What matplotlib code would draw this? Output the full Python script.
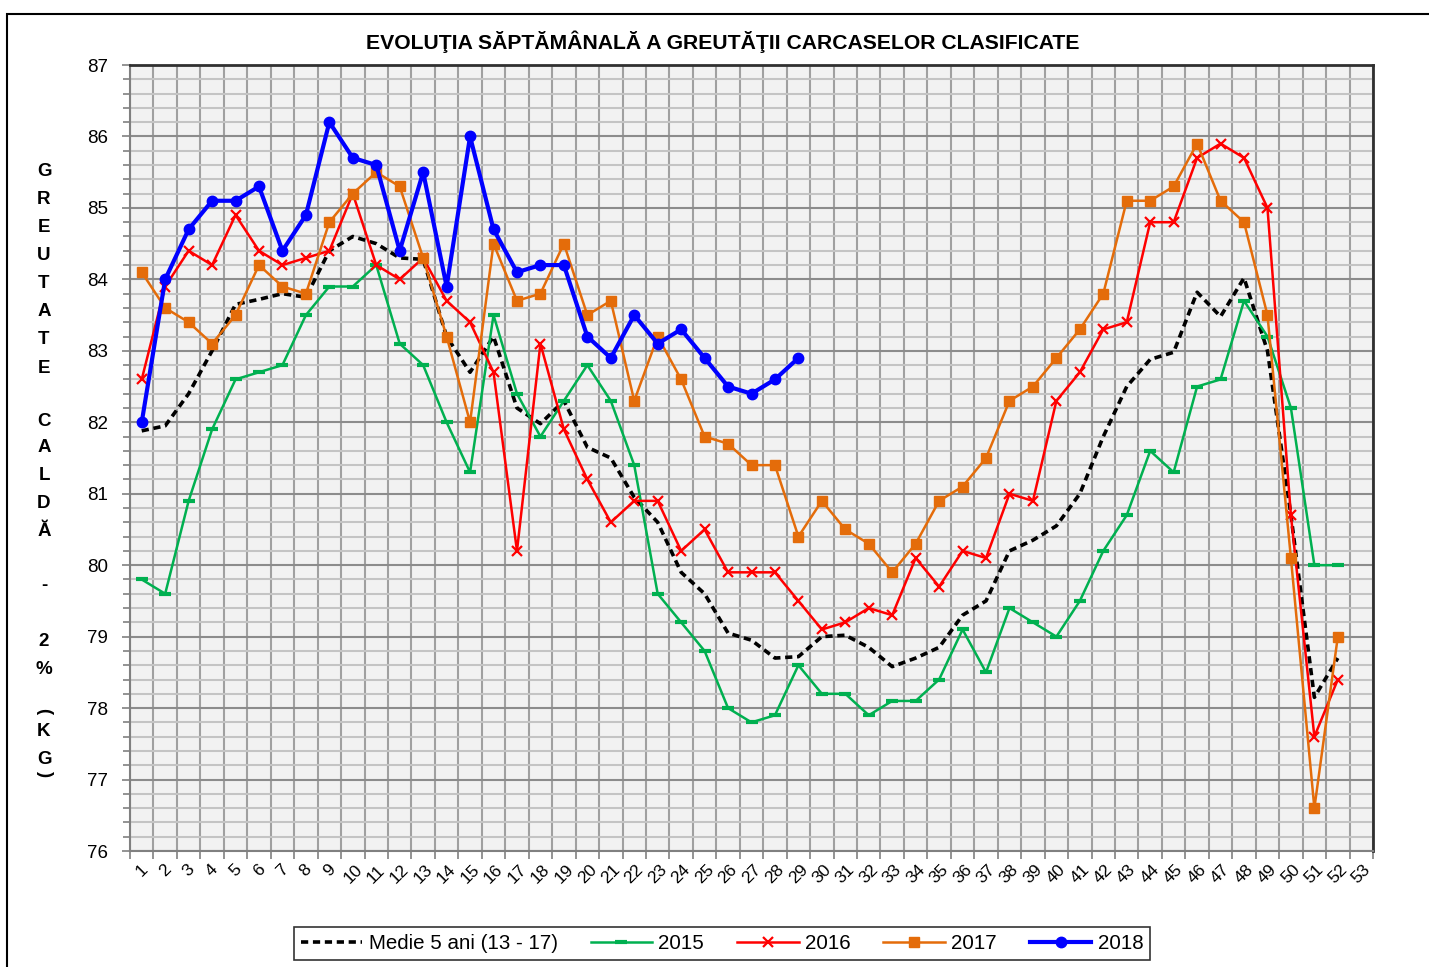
# coding: utf8
import matplotlib
matplotlib.use('Agg')
import matplotlib.pyplot as plt
from matplotlib.ticker import MultipleLocator, FixedLocator, NullFormatter
from matplotlib.patches import Rectangle

plt.rcParams['font.family'] = ['Liberation Sans', 'DejaVu Sans']

# date saptamanale (kg)
weeks = list(range(1, 54))
medie = [81.88, 81.95, 82.4, 83.0, 83.65, 83.72, 83.8, 83.75, 84.4, 84.6,
         84.5, 84.3, 84.28, 83.2, 82.7, 83.2, 82.2, 81.98, 82.3, 81.65,
         81.5, 80.95, 80.6, 79.9, 79.6, 79.05, 78.95, 78.7, 78.72, 79.0,
         79.02, 78.85, 78.58, 78.7, 78.85, 79.3, 79.5, 80.2, 80.35, 80.55,
         81.0, 81.8, 82.5, 82.88, 82.98, 83.82, 83.48, 84.02, 83.0, 80.7,
         78.15, 78.7]
y2015 = [79.8, 79.6, 80.9, 81.9, 82.6, 82.7, 82.8, 83.5, 83.9, 83.9,
         84.2, 83.1, 82.8, 82.0, 81.3, 83.5, 82.4, 81.8, 82.3, 82.8,
         82.3, 81.4, 79.6, 79.2, 78.8, 78.0, 77.8, 77.9, 78.6, 78.2,
         78.2, 77.9, 78.1, 78.1, 78.4, 79.1, 78.5, 79.4, 79.2, 79.0,
         79.5, 80.2, 80.7, 81.6, 81.3, 82.5, 82.6, 83.7, 83.2, 82.2,
         80.0, 80.0]
y2016 = [82.6, 83.9, 84.4, 84.2, 84.9, 84.4, 84.2, 84.3, 84.4, 85.2,
         84.2, 84.0, 84.3, 83.7, 83.4, 82.7, 80.2, 83.1, 81.9, 81.2,
         80.6, 80.9, 80.9, 80.2, 80.5, 79.9, 79.9, 79.9, 79.5, 79.1,
         79.2, 79.4, 79.3, 80.1, 79.7, 80.2, 80.1, 81.0, 80.9, 82.3,
         82.7, 83.3, 83.4, 84.8, 84.8, 85.7, 85.9, 85.7, 85.0, 80.7,
         77.6, 78.4]
y2017 = [84.1, 83.6, 83.4, 83.1, 83.5, 84.2, 83.9, 83.8, 84.8, 85.2,
         85.5, 85.3, 84.3, 83.2, 82.0, 84.5, 83.7, 83.8, 84.5, 83.5,
         83.7, 82.3, 83.2, 82.6, 81.8, 81.7, 81.4, 81.4, 80.4, 80.9,
         80.5, 80.3, 79.9, 80.3, 80.9, 81.1, 81.5, 82.3, 82.5, 82.9,
         83.3, 83.8, 85.1, 85.1, 85.3, 85.9, 85.1, 84.8, 83.5, 80.1,
         76.6, 79.0]
y2018 = [82.0, 84.0, 84.7, 85.1, 85.1, 85.3, 84.4, 84.9, 86.2, 85.7,
         85.6, 84.4, 85.5, 83.9, 86.0, 84.7, 84.1, 84.2, 84.2, 83.2,
         82.9, 83.5, 83.1, 83.3, 82.9, 82.5, 82.4, 82.6, 82.9]

W, H = 1429, 967
fig = plt.figure(figsize=(W / 100, H / 100), dpi=100)
fig.patch.set_facecolor('white')

# chenarul figurii (doar stanga si sus se vad)
fig.add_artist(Rectangle((7 / W, -0.2), 2, 1.2 - 14 / H, transform=fig.transFigure,
                         fill=False, ec='black', lw=1.5))

ax = fig.add_axes([130 / W, 1 - 851 / H, (1373 - 130) / W, (851 - 65) / H])
ax.set_facecolor('#f2f2f2')

def xs(v):
    return weeks[:len(v)]

ax.plot(xs(medie), medie, color='black', lw=2.6, ls=(0, (2.0, 1.3)),
        label='Medie 5 ani (13 - 17)', zorder=3)
ax.plot(xs(y2015), y2015, color='#00b050', lw=1.8, marker='_', ms=8, mew=3,
        label='2015', zorder=4)
ax.plot(xs(y2016), y2016, color='#ff0000', lw=1.8, marker='x', ms=7, mew=1.6,
        label='2016', zorder=5)
ax.plot(xs(y2017), y2017, color='#e46c0a', lw=1.8, marker='s', ms=7,
        label='2017', zorder=6)
ax.plot(xs(y2018), y2018, color='#0000ff', lw=3, marker='o', ms=7.5,
        label='2018', zorder=7)

ax.set_xlim(0.5, 53.5)
ax.set_ylim(76, 87)

# axa x: liniile la marginile categoriilor, etichetele la mijloc
ax.xaxis.set_major_locator(FixedLocator([w - 0.5 for w in weeks] + [53.5]))
ax.xaxis.set_major_formatter(NullFormatter())
ax.xaxis.set_minor_locator(FixedLocator(weeks))
ax.set_xticklabels([str(w) for w in weeks], minor=True, rotation=45,
                   ha='center', va='top', fontsize=12.5)
ax.tick_params(axis='x', which='major', direction='out', length=6, width=1.2, color='#808080')
ax.tick_params(axis='x', which='minor', length=0, pad=8)

ax.yaxis.set_major_locator(MultipleLocator(1))
ax.yaxis.set_minor_locator(MultipleLocator(0.2))
ax.tick_params(axis='y', which='major', direction='out', length=6, width=1.2,
               color='#808080', labelsize=13.5, pad=10)
ax.tick_params(axis='y', which='minor', direction='out', length=5, width=1.2, color='#808080')

ax.grid(which='major', axis='x', color='#a0a0a0', lw=1.5)
ax.grid(which='minor', axis='y', color='#c4c4c4', lw=1.5)
ax.grid(which='major', axis='y', color='#8c8c8c', lw=1.5)
ax.set_axisbelow(True)

for s in ['left', 'bottom']:
    ax.spines[s].set_color('#808080')
    ax.spines[s].set_linewidth(1.5)
for s in ['top', 'right']:
    ax.spines[s].set_color('#303030')
    ax.spines[s].set_linewidth(2)

fig.text(723 / W, 1 - 42 / H, 'EVOLUŢIA SĂPTĂMÂNALĂ A GREUTĂŢII CARCASELOR CLASIFICATE',
         ha='center', va='center', fontsize=15.2, fontweight='bold')

# eticheta axei y, litere stivuite
ylab = [('G', 172, 0), ('R', 200, 0), ('E', 228, 0), ('U', 256, 0), ('T', 284, 0),
        ('A', 312, 0), ('T', 340, 0), ('E', 368, 0), ('C', 421, 0), ('A', 448, 0),
        ('L', 476, 0), ('D', 504, 0), ('Ă', 532, 0), ('-', 586, 0), ('2', 641, 0),
        ('%', 669, 0), ('(', 711, -90), ('K', 731, 0), ('G', 759, 0), (')', 774, -90)]
for ch, yp, rot in ylab:
    fig.text(44 / W, 1 - yp / H, ch, ha='center', va='center', fontsize=13.5,
             fontweight='bold', rotation=rot)

leg = fig.legend(loc='center', bbox_to_anchor=(722 / W, 1 - 943.5 / H), ncol=5,
                 fontsize=14.8, frameon=True, fancybox=False, edgecolor='black',
                 handlelength=3.0, columnspacing=1.6, handletextpad=0.3,
                 borderpad=0.32, borderaxespad=0)
leg.get_frame().set_linewidth(1.2)

plt.savefig('out.png', dpi=100)
